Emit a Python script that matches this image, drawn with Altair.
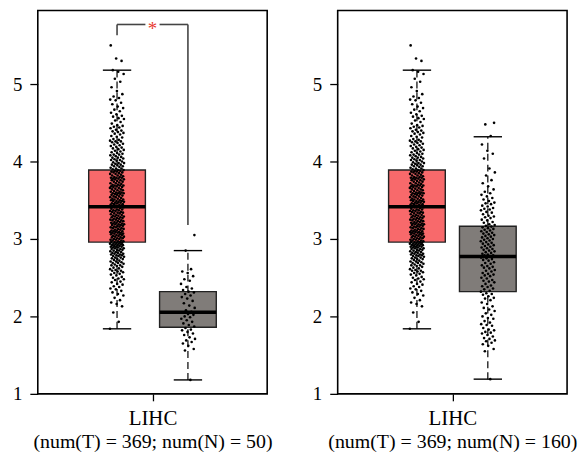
import altair as alt
import pandas as pd

# ---------------- data ----------------
groups = ["T", "N"]
group_pos = [1, 2]
box_colors = ["#F8696B", "#807C79"]

tumor_vals = [
    1.84, 1.93, 2.05, 2.13, 2.16, 2.18, 2.21, 2.24, 2.27, 2.29,
    2.31, 2.33, 2.35, 2.36, 2.38, 2.39, 2.41, 2.42, 2.44, 2.45, 2.47, 2.48, 2.49,
    2.50, 2.51, 2.53, 2.54, 2.55, 2.56, 2.57, 2.58, 2.59, 2.59,
    2.60, 2.61, 2.62, 2.63, 2.64, 2.65, 2.66, 2.66, 2.67, 2.68, 2.69, 2.69,
    2.70, 2.71, 2.71, 2.72, 2.73, 2.74, 2.74, 2.75, 2.76, 2.76, 2.77, 2.78, 2.78, 2.79, 2.79,
    2.80, 2.80, 2.81, 2.81, 2.82, 2.82, 2.83, 2.83, 2.84, 2.85, 2.85, 2.86, 2.86, 2.87, 2.87, 2.88, 2.88, 2.89, 2.89,
    2.90, 2.90, 2.90, 2.91, 2.91, 2.92, 2.92, 2.92, 2.93, 2.93, 2.94, 2.94, 2.94, 2.95, 2.95, 2.96, 2.96, 2.96,
    2.97, 2.97, 2.98, 2.98, 2.99, 2.99,
    3.00, 3.00, 3.01, 3.01, 3.02, 3.02, 3.03, 3.03, 3.04, 3.04, 3.05, 3.05, 3.06, 3.06, 3.07, 3.07,
    3.08, 3.08, 3.08, 3.09, 3.09, 3.09,
    3.10, 3.10, 3.11, 3.11, 3.12, 3.12, 3.13, 3.13, 3.14, 3.14, 3.15, 3.15, 3.16, 3.16, 3.17, 3.17,
    3.18, 3.18, 3.19, 3.19, 3.19,
    3.20, 3.20, 3.21, 3.21, 3.22, 3.22, 3.23, 3.23, 3.24, 3.24, 3.25, 3.25, 3.26, 3.26, 3.27, 3.27,
    3.28, 3.28, 3.29, 3.29,
    3.30, 3.30, 3.31, 3.31, 3.32, 3.33, 3.33, 3.34, 3.34, 3.35, 3.35, 3.36, 3.36, 3.37, 3.37, 3.38, 3.38, 3.39,
    3.40, 3.41, 3.41, 3.42, 3.42, 3.43, 3.43, 3.44, 3.44, 3.45, 3.45, 3.46, 3.46, 3.47, 3.47, 3.48,
    3.48, 3.49, 3.49, 3.49,
    3.50, 3.50, 3.51, 3.51, 3.52, 3.52, 3.53, 3.54, 3.54, 3.55, 3.55, 3.56, 3.57, 3.57, 3.58, 3.58, 3.59, 3.59, 3.59,
    3.60, 3.60, 3.61, 3.61, 3.62, 3.63, 3.63, 3.64, 3.64, 3.65, 3.66, 3.66, 3.67, 3.67, 3.68, 3.68, 3.69, 3.69, 3.69,
    3.70, 3.70, 3.71, 3.72, 3.72, 3.73, 3.74, 3.74, 3.75, 3.76, 3.76, 3.77, 3.77, 3.78, 3.78, 3.79, 3.79, 3.79,
    3.80, 3.80, 3.81, 3.82, 3.82, 3.83, 3.84, 3.84, 3.85, 3.86, 3.86, 3.87, 3.87, 3.88, 3.88, 3.89, 3.89,
    3.90, 3.91, 3.91, 3.92, 3.93, 3.94, 3.94, 3.95, 3.96, 3.96, 3.97, 3.98, 3.98, 3.99,
    4.00, 4.01, 4.02, 4.02, 4.03, 4.04, 4.05, 4.05, 4.06, 4.07, 4.08, 4.09, 4.09,
    4.10, 4.11, 4.12, 4.13, 4.14, 4.15, 4.16, 4.17, 4.18, 4.19,
    4.20, 4.21, 4.22, 4.23, 4.24, 4.25, 4.26, 4.26, 4.27, 4.28, 4.29,
    4.31, 4.32, 4.33, 4.35, 4.36, 4.37, 4.38, 4.39,
    4.40, 4.41, 4.43, 4.44, 4.45, 4.46, 4.47, 4.49,
    4.51, 4.53, 4.55, 4.56, 4.58, 4.59,
    4.61, 4.63, 4.65, 4.67, 4.69,
    4.71, 4.74, 4.76, 4.79,
    4.80, 4.82, 4.84, 4.87,
    4.91, 4.96, 5.03, 5.07, 5.13, 5.16, 5.18, 5.30, 5.33, 5.50,
]

normal_left_vals = [
    1.18, 1.56, 1.58, 1.62, 1.65, 1.67, 1.69, 1.71, 1.73, 1.76, 1.78,
    1.80, 1.82, 1.83, 1.85, 1.87, 1.89, 1.91, 1.93, 1.95, 1.97, 1.99,
    2.00, 2.02, 2.03, 2.05, 2.06, 2.08, 2.11, 2.14, 2.17,
    2.20, 2.23, 2.25, 2.27, 2.29, 2.31, 2.32, 2.34, 2.36, 2.38,
    2.42, 2.46, 2.48, 2.52, 2.56, 2.58, 2.61, 2.85, 3.05,
]

normal_right_vals = [
    1.19, 1.55, 1.58, 1.62, 1.64, 1.66, 1.68, 1.69,
    1.71, 1.72, 1.74, 1.76, 1.78, 1.79,
    1.80, 1.82, 1.83, 1.85, 1.88, 1.89,
    1.90, 1.92, 1.94, 1.97, 1.98,
    2.00, 2.02, 2.04, 2.07, 2.09,
    2.11, 2.13, 2.16, 2.18,
    2.21, 2.23, 2.24, 2.26, 2.28, 2.29,
    2.30, 2.32, 2.33, 2.35, 2.36, 2.38, 2.39,
    2.40, 2.42, 2.44, 2.45, 2.46, 2.47, 2.49,
    2.50, 2.52, 2.53, 2.54, 2.55, 2.56, 2.58, 2.59,
    2.60, 2.62, 2.63, 2.64, 2.65, 2.66, 2.68, 2.69,
    2.70, 2.72, 2.73, 2.74, 2.75, 2.76, 2.78, 2.79, 2.79,
    2.80, 2.81, 2.82, 2.83, 2.84, 2.85, 2.86, 2.87, 2.88, 2.89,
    2.90, 2.91, 2.92, 2.93, 2.94, 2.95, 2.96, 2.97, 2.98, 2.99,
    3.00, 3.01, 3.02, 3.03, 3.04, 3.05, 3.06, 3.07, 3.08, 3.09,
    3.10, 3.11, 3.12, 3.13, 3.14, 3.15, 3.16, 3.17, 3.18, 3.19,
    3.21, 3.22, 3.24, 3.25, 3.27, 3.28, 3.29,
    3.30, 3.32, 3.34, 3.35, 3.37, 3.38, 3.39,
    3.40, 3.42, 3.43, 3.45, 3.46, 3.47, 3.49,
    3.51, 3.53, 3.55, 3.57, 3.59,
    3.61, 3.64, 3.68, 3.72, 3.76, 3.82, 3.86, 3.91, 4.04,
    4.10, 4.14, 4.22, 4.33, 4.48, 4.50,
]

# box summaries [T, N]
left_q1, left_med, left_q3 = [2.96, 1.86], [3.415, 2.055], [3.89, 2.32]
left_wlo, left_whi = [1.84, 1.18], [5.18, 2.85]
right_q1, right_med, right_q3 = [2.96, 2.32], [3.415, 2.775], [3.89, 3.165]
right_wlo, right_whi = [1.84, 1.19], [5.18, 4.32]

# significance bracket (left panel)
sig_top, sig_left_end, sig_right_end = 5.77, 5.63, 3.18
sig_label = "*"

cancer = "LIHC"
left_title = "(num(T) = 369; num(N) = 50)"
right_title = "(num(T) = 369; num(N) = 160)"

# ---------------- chart ----------------
FONT = "Liberation Serif"
W, H = 231, 386
X_DOMAIN = [-0.118, 3.118]
Y_DOMAIN = [1, 5.95]


def xenc(field, title):
    return alt.X(
        field, type="quantitative",
        scale=alt.Scale(domain=X_DOMAIN, nice=False, zero=False),
        axis=alt.Axis(values=[1.5], labelExpr=f"'{cancer}'", tickSize=7, domain=False,
                      grid=False, labelFont=FONT, labelFontSize=21, labelColor="black",
                      labelPadding=7, tickColor="black", tickWidth=1.3,
                      title=title, titleFont=FONT, titleFontSize=20, titleFontWeight="normal",
                      titleColor="black", titlePadding=3),
    )


def yenc(field):
    return alt.Y(
        field, type="quantitative",
        scale=alt.Scale(domain=Y_DOMAIN, nice=False, zero=False),
        axis=alt.Axis(values=[1, 2, 3, 4, 5], tickSize=8, domain=False, grid=False,
                      labelFont=FONT, labelFontSize=19, labelColor="black", labelPadding=8,
                      tickColor="black", tickWidth=1.3, title=None),
    )


def panel(normal_vals, q1, med, q3, wlo, whi, title, bracket=False):
    summ = pd.DataFrame({"group": groups, "pos": group_pos, "q1": q1, "med": med,
                         "q3": q3, "wlo": wlo, "whi": whi})
    vals = tumor_vals + normal_vals
    pts = pd.DataFrame({
        "group": ["T"] * len(tumor_vals) + ["N"] * len(normal_vals),
        "pos": [group_pos[0]] * len(tumor_vals) + [group_pos[1]] * len(normal_vals),
        "value": vals,
    })
    pts["idx"] = range(len(pts))

    base = alt.Chart(summ).transform_calculate(
        blo="datum.pos - 0.4", bhi="datum.pos + 0.4",
        clo="datum.pos - 0.2", chi="datum.pos + 0.2",
    )
    whisk = base.mark_rule(color="black", strokeWidth=1.2, strokeDash=[7, 4]).encode(
        x=xenc("pos", title), y=yenc("wlo"), y2="whi")
    cap_lo = base.mark_rule(color="black", strokeWidth=1.4).encode(
        x=xenc("clo", title), x2="chi", y=yenc("wlo"))
    cap_hi = base.mark_rule(color="black", strokeWidth=1.4).encode(
        x=xenc("clo", title), x2="chi", y=yenc("whi"))
    box = base.mark_bar(stroke="#222222", strokeWidth=1.4).encode(
        x=xenc("blo", title), x2="bhi", y=yenc("q1"), y2="q3",
        color=alt.Color("group:N", scale=alt.Scale(domain=groups, range=box_colors), legend=None))
    median = base.mark_rule(color="black", strokeWidth=3.5).encode(
        x=xenc("blo", title), x2="bhi", y=yenc("med"))
    dots = alt.Chart(pts).transform_calculate(
        jx="datum.pos + ((datum.idx * 0.618034) % 1 - 0.5) * 0.2"
    ).mark_circle(size=7, color="black", opacity=1).encode(
        x=xenc("jx", title), y=yenc("value"))

    layers = [whisk, cap_lo, cap_hi, box, median, dots]

    if bracket:
        p1, p2 = group_pos
        mid = (p1 + p2) / 2
        segs = pd.DataFrame({
            "x": [p1, p1, mid + 0.1, p2],
            "x2": [p1, mid - 0.1, p2, p2],
            "y": [sig_left_end, sig_top, sig_top, sig_right_end],
            "y2": [sig_top, sig_top, sig_top, sig_top],
        })
        br = alt.Chart(segs).mark_rule(color="#444444", strokeWidth=1.6).encode(
            x=xenc("x", title), x2="x2", y=yenc("y"), y2="y2")
        star = alt.Chart(pd.DataFrame({"x": [mid], "y": [sig_top], "t": [sig_label]})).mark_text(
            font=FONT, fontSize=19, color="#E8392F", baseline="middle", dy=5
        ).encode(x=xenc("x", title), y=yenc("y"), text="t:N")
        layers += [br, star]

    return alt.layer(*layers).properties(width=W, height=H)


left = panel(normal_left_vals, left_q1, left_med, left_q3, left_wlo, left_whi, left_title, bracket=True)
right = panel(normal_right_vals, right_q1, right_med, right_q3, right_wlo, right_whi, right_title)

chart = alt.hconcat(left, right, spacing=38).properties(
    padding={"left": 3, "top": 0, "right": 0, "bottom": 0}
).configure(
    background="white",
    view=alt.ViewConfig(stroke="black", strokeWidth=1.6),
)

chart.save("out.html", embed_options={"renderer": "svg", "actions": False})
